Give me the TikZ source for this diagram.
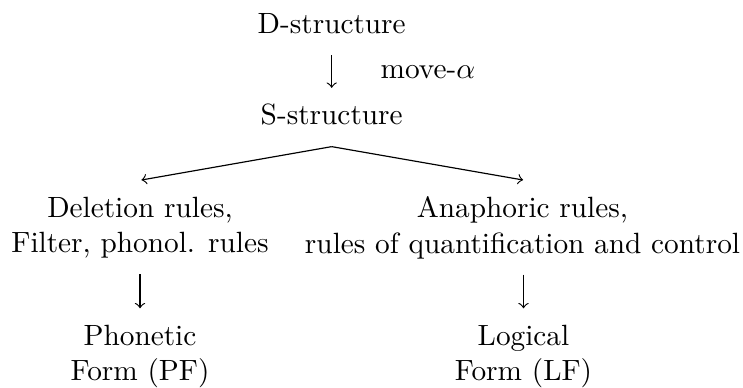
\documentclass[tikz,border=0pt]{standalone}
\begin{document}
\begin{tikzpicture}[x=0.3413pt,y=-0.3413pt,
  lbl/.style={inner sep=0pt, align=center, font=\fontsize{10}{12}\selectfont},
  arr/.style={->, line width=0.4pt}]
\useasboundingbox (0,0) rectangle (743,387);
\node[lbl, anchor=base] (D) at (331.7,33.3) {D-structure};
\node[lbl, anchor=base west] (mv) at (380,78) {move-$\alpha$};
\node[lbl, anchor=base] (S) at (331.7,124) {S-structure};
\node[lbl, anchor=north] (L) at (140,196.4) {Deletion rules,\\Filter, phonol. rules};
\node[lbl, anchor=north] (R) at (522.5,196.4) {Anaphoric rules,\\rules of quantification and control};
\node[lbl, anchor=north] (PF) at (140,324.7) {Phonetic\\Form (PF)};
\node[lbl, anchor=north] (LF) at (523.5,324.7) {Logical\\Form (LF)};
\draw[arr] ([yshift=-7.2pt]S.north |- D.south) -- ([yshift=5.1pt]S.north);
\coordinate (fork) at ([yshift=-7.3pt]S.south);
\coordinate (Lend) at ([xshift=0.5pt,yshift=5.6pt]L.north);
\coordinate (Rend) at ([xshift=0.2pt,yshift=5.6pt]R.north);
\draw[arr] (fork) -- (Lend);
\draw[arr] (fork) -- (Rend);
\draw[arr] ([yshift=-5.2pt]PF.north |- L.south) -- ([yshift=5.6pt]PF.north);
\draw[arr] ([yshift=-5.2pt]LF.north |- R.south) -- ([yshift=5.6pt]LF.north);
\end{tikzpicture}
\end{document}
